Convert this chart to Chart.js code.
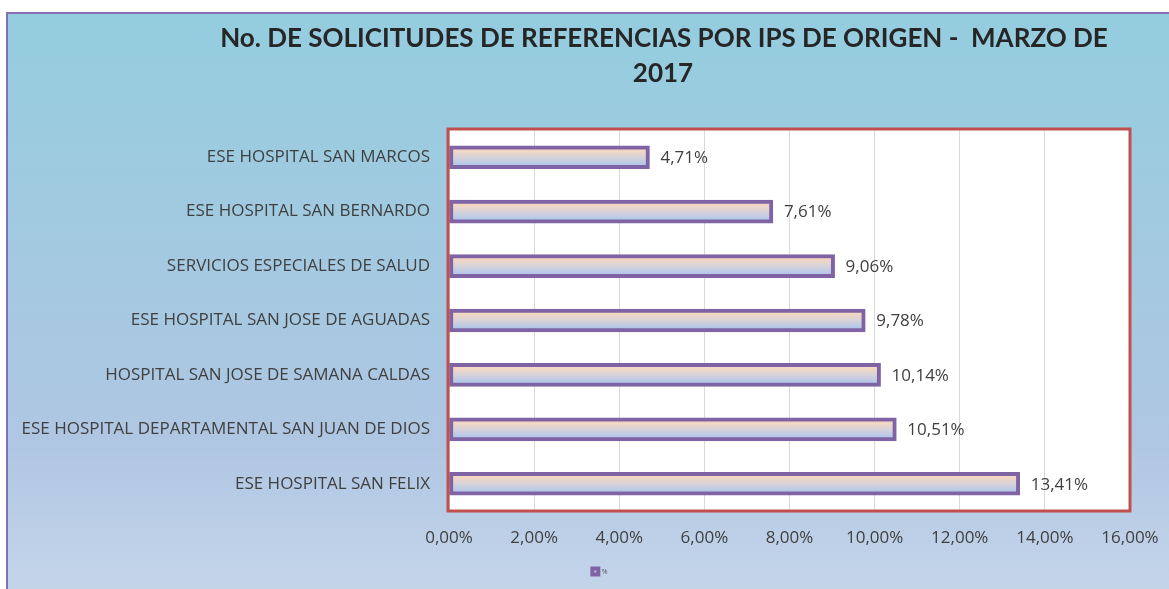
<!DOCTYPE html>
<html>
<head>
<meta charset="utf-8">
<style>
  html, body { margin: 0; padding: 0; background: #fff; }
  #wrap { width: 1169px; height: 589px; position: relative; }
</style>
<script src="https://cdn.jsdelivr.net/npm/chart.js@4.4.0/dist/chart.umd.min.js"></script>
</head>
<body>
<div id="wrap"><canvas id="chart" width="1169" height="589"></canvas></div>
<script>
const titleLines = ["No. DE SOLICITUDES DE REFERENCIAS POR IPS DE ORIGEN -  MARZO DE", "2017"];
const hospitals = [
  "ESE HOSPITAL SAN MARCOS",
  "ESE HOSPITAL SAN BERNARDO",
  "SERVICIOS ESPECIALES DE SALUD",
  "ESE HOSPITAL SAN JOSE DE AGUADAS",
  "HOSPITAL SAN JOSE DE SAMANA CALDAS",
  "ESE HOSPITAL DEPARTAMENTAL SAN JUAN DE DIOS",
  "ESE HOSPITAL SAN FELIX"
];
const percents = [4.71, 7.61, 9.06, 9.78, 10.14, 10.51, 13.41];
const seriesName = "%";

const FONT = "'Open Sans', Lato, sans-serif";
const TITLE_FONT = "Lato, 'Open Sans', sans-serif";
const fmt = v => Number(v).toFixed(2).replace(".", ",") + "%";

// background, plot frame and title
const frame = {
  id: "frame",
  afterLayout(chart) {
    // legend sits a bit right of the canvas centre in the original
    if (chart.legend) {
      chart.legend.left += 20;
      chart.legend.right += 20;
    }
  },
  beforeDraw(chart) {
    const { ctx, width, height, chartArea: a } = chart;
    ctx.save();
    ctx.fillStyle = "#fff";
    ctx.fillRect(0, 0, width, height);
    const g = ctx.createLinearGradient(0, 12, 0, height);
    g.addColorStop(0, "#94CDDF");
    g.addColorStop(0.75, "#AFC6E2");
    g.addColorStop(1, "#C4D5EA");
    ctx.fillStyle = g;
    ctx.fillRect(6, 12, width - 6, height - 12);
    ctx.strokeStyle = "#8470B4";
    ctx.lineWidth = 2;
    ctx.beginPath();
    ctx.moveTo(7, height);
    ctx.lineTo(7, 13);
    ctx.lineTo(width, 13);
    ctx.stroke();
    ctx.fillStyle = "#fff";
    ctx.fillRect(a.left, a.top, a.right - a.left, a.bottom - a.top);
    ctx.fillStyle = "#262626";
    ctx.font = "bold 26px " + TITLE_FONT;
    ctx.textAlign = "center";
    ctx.textBaseline = "middle";
    ctx.fillText(titleLines[0], 664, 39);
    ctx.fillText(titleLines[1], 663, 74);
    ctx.restore();
  },
  afterDraw(chart) {
    const { ctx, chartArea: a } = chart;
    ctx.save();
    ctx.strokeStyle = "#C0504D";
    ctx.lineWidth = 3;
    ctx.strokeRect(a.left - 1, a.top - 1, a.right - a.left + 1, a.bottom - a.top + 1);
    ctx.restore();
  }
};

// value labels at the end of each bar
const valueLabels = {
  id: "valueLabels",
  afterDatasetsDraw(chart) {
    const { ctx } = chart;
    const meta = chart.getDatasetMeta(0);
    ctx.save();
    ctx.font = "17px " + FONT;
    ctx.fillStyle = "#404040";
    ctx.textBaseline = "middle";
    ctx.textAlign = "left";
    meta.data.forEach((bar, i) => {
      ctx.fillText(fmt(percents[i]), bar.x + 11, bar.y + 1);
    });
    ctx.restore();
  }
};

function barFill(context) {
  const chart = context.chart;
  const y = chart.scales && chart.scales.y;
  if (!chart.chartArea || !y || context.dataIndex == null) return "#D6D0D8";
  const c = y.getPixelForValue(context.dataIndex);
  const g = chart.ctx.createLinearGradient(0, c - 7, 0, c + 7);
  g.addColorStop(0, "#F4D7C2");
  g.addColorStop(0.5, "#D8D2D9");
  g.addColorStop(1, "#B4C8E8");
  return g;
}

new Chart(document.getElementById("chart"), {
  type: "bar",
  data: {
    labels: hospitals,
    datasets: [{
      label: seriesName,
      data: percents,
      backgroundColor: barFill,
      borderColor: "#7F63A4",
      borderWidth: 4,
      borderSkipped: false,
      barThickness: 23
    }]
  },
  options: {
    indexAxis: "y",
    responsive: false,
    animation: false,
    layout: { padding: { top: 130, right: 21, bottom: 4, left: 12 } },
    scales: {
      x: {
        min: 0,
        max: 16,
        border: { display: false },
        grid: { color: "#D9D9D9", lineWidth: 1, drawTicks: false },
        ticks: {
          stepSize: 2,
          padding: 17,
          color: "#404040",
          font: { family: FONT, size: 17 },
          callback: v => fmt(v)
        },
        afterFit: s => {
          s.height = 47;
          s.paddingRight = 39;
        }
      },
      y: {
        border: { display: false },
        grid: { display: false, drawTicks: false },
        ticks: {
          padding: 19,
          color: "#404040",
          font: { family: FONT, size: 17 }
        },
        afterFit: s => { s.width = 437; }
      }
    },
    plugins: {
      title: { display: false },
      tooltip: { enabled: false },
      legend: {
        position: "bottom",
        labels: {
          boxWidth: 6,
          boxHeight: 6,
          padding: 10,
          color: "#595959",
          font: { family: FONT, size: 7 }
        }
      }
    }
  },
  plugins: [frame, valueLabels]
});
</script>
</body>
</html>
